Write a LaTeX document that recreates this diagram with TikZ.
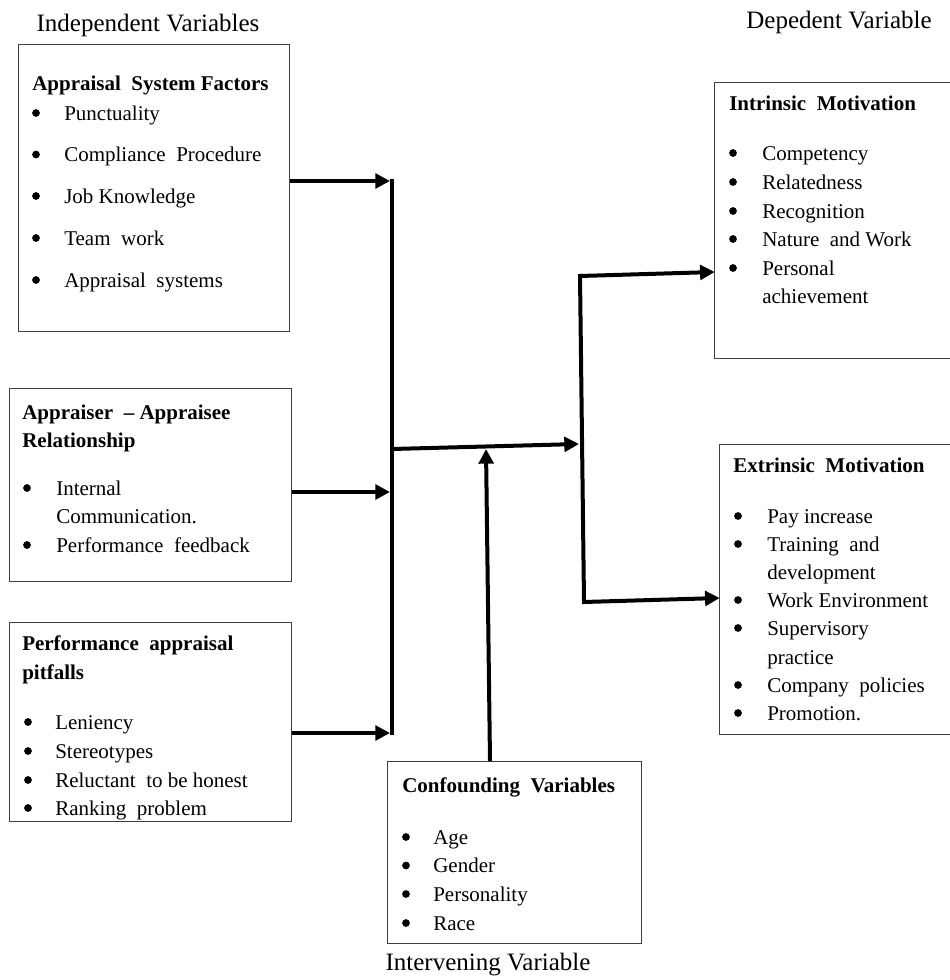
\documentclass[tikz,border=0pt]{standalone}
\usepackage{fontspec}
\setmainfont{Liberation Serif}
\usetikzlibrary{arrows.meta, fit}

\tikzset{
	box/.style = {draw=black!75, line width=0.75pt, inner sep=0pt},
	openbox/.style = {inner sep=0pt},
	edge/.style = {draw=black!75, line width=0.75pt},
	head/.style = {font=\fontsize{15.75}{18}\selectfont\bfseries, anchor=mid west, inner sep=0pt, yshift=-3pt},
	item/.style = {font=\fontsize{15.75}{18}\selectfont, anchor=mid west, inner sep=0pt, yshift=-3pt},
	dot/.style = {circle, fill=black, inner sep=0pt, minimum size=5.8pt},
	title/.style = {font=\fontsize{18.75}{22}\selectfont, anchor=mid, inner sep=0pt, yshift=-3.5pt},
	flow/.style = {line width=3pt, -{Triangle[length=11pt, width=11pt]}},
	bus/.style = {line width=3pt, line cap=rect}
}

\begin{document}
\begin{tikzpicture}[x=0.75pt, y=-0.75pt]
			\useasboundingbox (0,0) rectangle (949,980);

			\node [title] (indep) at (148,24) {Independent Variables};
			\node [title] (dep) at (839,21) {Depedent Variable};
			\node [title] (interv) at (488,963) {Intervening Variable};

			\node [box, fit={(18,45) (289,331)}] (asf) {};
			\node [head] (asf-h) at (32,83) {Appraisal\ \ System Factors};
			\foreach \t/\y [count=\i] in {Punctuality/113, Compliance\ \ Procedure/154.5, Job Knowledge/196, Team\ \ work/238, Appraisal\ \ systems/280} {
				\node [dot] (asf-b\i) at (36,\y) {};
				\node [item] (asf-t\i) at (64,\y) {\t};
			}

			\node [box, fit={(9,388) (291,581)}] (aar) {};
			\node [head] (aar-h1) at (22,412) {Appraiser\ \ -- Appraisee};
			\node [head] (aar-h2) at (22,440) {Relationship};
			\node [dot] (aar-b1) at (27,488) {};
			\node [item] (aar-t1) at (56,488) {Internal};
			\node [item] (aar-t2) at (56,516) {Communication.};
			\node [dot] (aar-b3) at (27,545) {};
			\node [item] (aar-t3) at (56,545) {Performance\ \ feedback};

			\node [box, fit={(9,622) (291,821)}] (pap) {};
			\node [head] (pap-h1) at (22,643) {Performance\ \ appraisal};
			\node [head] (pap-h2) at (22,672) {pitfalls};
			\foreach \t/\y [count=\i] in {Leniency/722, Stereotypes/751, Reluctant\ \ to be honest/780, Ranking\ \ problem/808} {
				\node [dot] (pap-b\i) at (28,\y) {};
				\node [item] (pap-t\i) at (55,\y) {\t};
			}

			\node [box, fit={(387,761) (641,943)}] (conf) {};
			\node [head] (conf-h) at (402,785) {Confounding\ \ Variables};
			\foreach \t/\y [count=\i] in {Age/837, Gender/865.5, Personality/894, Race/923} {
				\node [dot] (conf-b\i) at (406,\y) {};
				\node [item] (conf-t\i) at (433,\y) {\t};
			}

			\node [openbox, fit={(715,83) (950,358)}] (intr) {};
			\draw [edge] (intr.north east) -- (intr.north west) -- (intr.south west) -- (intr.south east);
			\node [head] (intr-h) at (729,103) {Intrinsic\ \ Motivation};
			\foreach \t/\y [count=\i] in {Competency/153, Relatedness/182, Recognition/211, Nature\ \ and Work/239, Personal/268} {
				\node [dot] (intr-b\i) at (733,\y) {};
				\node [item] (intr-t\i) at (762,\y) {\t};
			}
			\node [item] (intr-t6) at (762,296) {achievement};

			\node [openbox, fit={(720,445) (950,734)}] (extr) {};
			\draw [edge] (extr.north east) -- (extr.north west) -- (extr.south west) -- (extr.south east);
			\node [head] (extr-h) at (733,465) {Extrinsic\ \ Motivation};
			\foreach \t/\y [count=\i] in {Pay increase/516, Training\ \ and/544, Work Environment/600, Supervisory/628, Company\ \ policies/685, Promotion./713} {
				\node [dot] (extr-b\i) at (738,\y) {};
				\node [item] (extr-t\i) at (767,\y) {\t};
			}
			\node [item] (extr-d1) at (767,572) {development};
			\node [item] (extr-d2) at (767,657) {practice};

			\coordinate (busT) at (392,181);
			\coordinate (busB) at (392,733);
			\coordinate (busM) at (392,449);
			\coordinate (hubT) at (580,276);
			\coordinate (hubM) at (581,444);
			\coordinate (hubB) at (584,602);
			\coordinate (mainIn) at (486,449);
			\coordinate (confOut) at (490,761);

			\draw [bus] (busT) -- (busB);
			\draw [bus] (hubT) -- (hubB);
			\draw [flow] (asf.east |- busT) -- ([xshift=-1.5pt]busT);
			\draw [flow] (aar.east |- 0,492) -- ([xshift=-1.5pt]busB |- 0,492);
			\draw [flow] (pap.east |- busB) -- ([xshift=-1.5pt]busB);
			\draw [flow] (busM) -- ([xshift=-1.5pt]hubM);
			\draw [flow] (confOut) -- (mainIn);
			\draw [flow] (hubT) -- (intr.west |- 0,272);
			\draw [flow] (hubB) -- (extr.west |- 0,598);
		\end{tikzpicture}
\end{document}
